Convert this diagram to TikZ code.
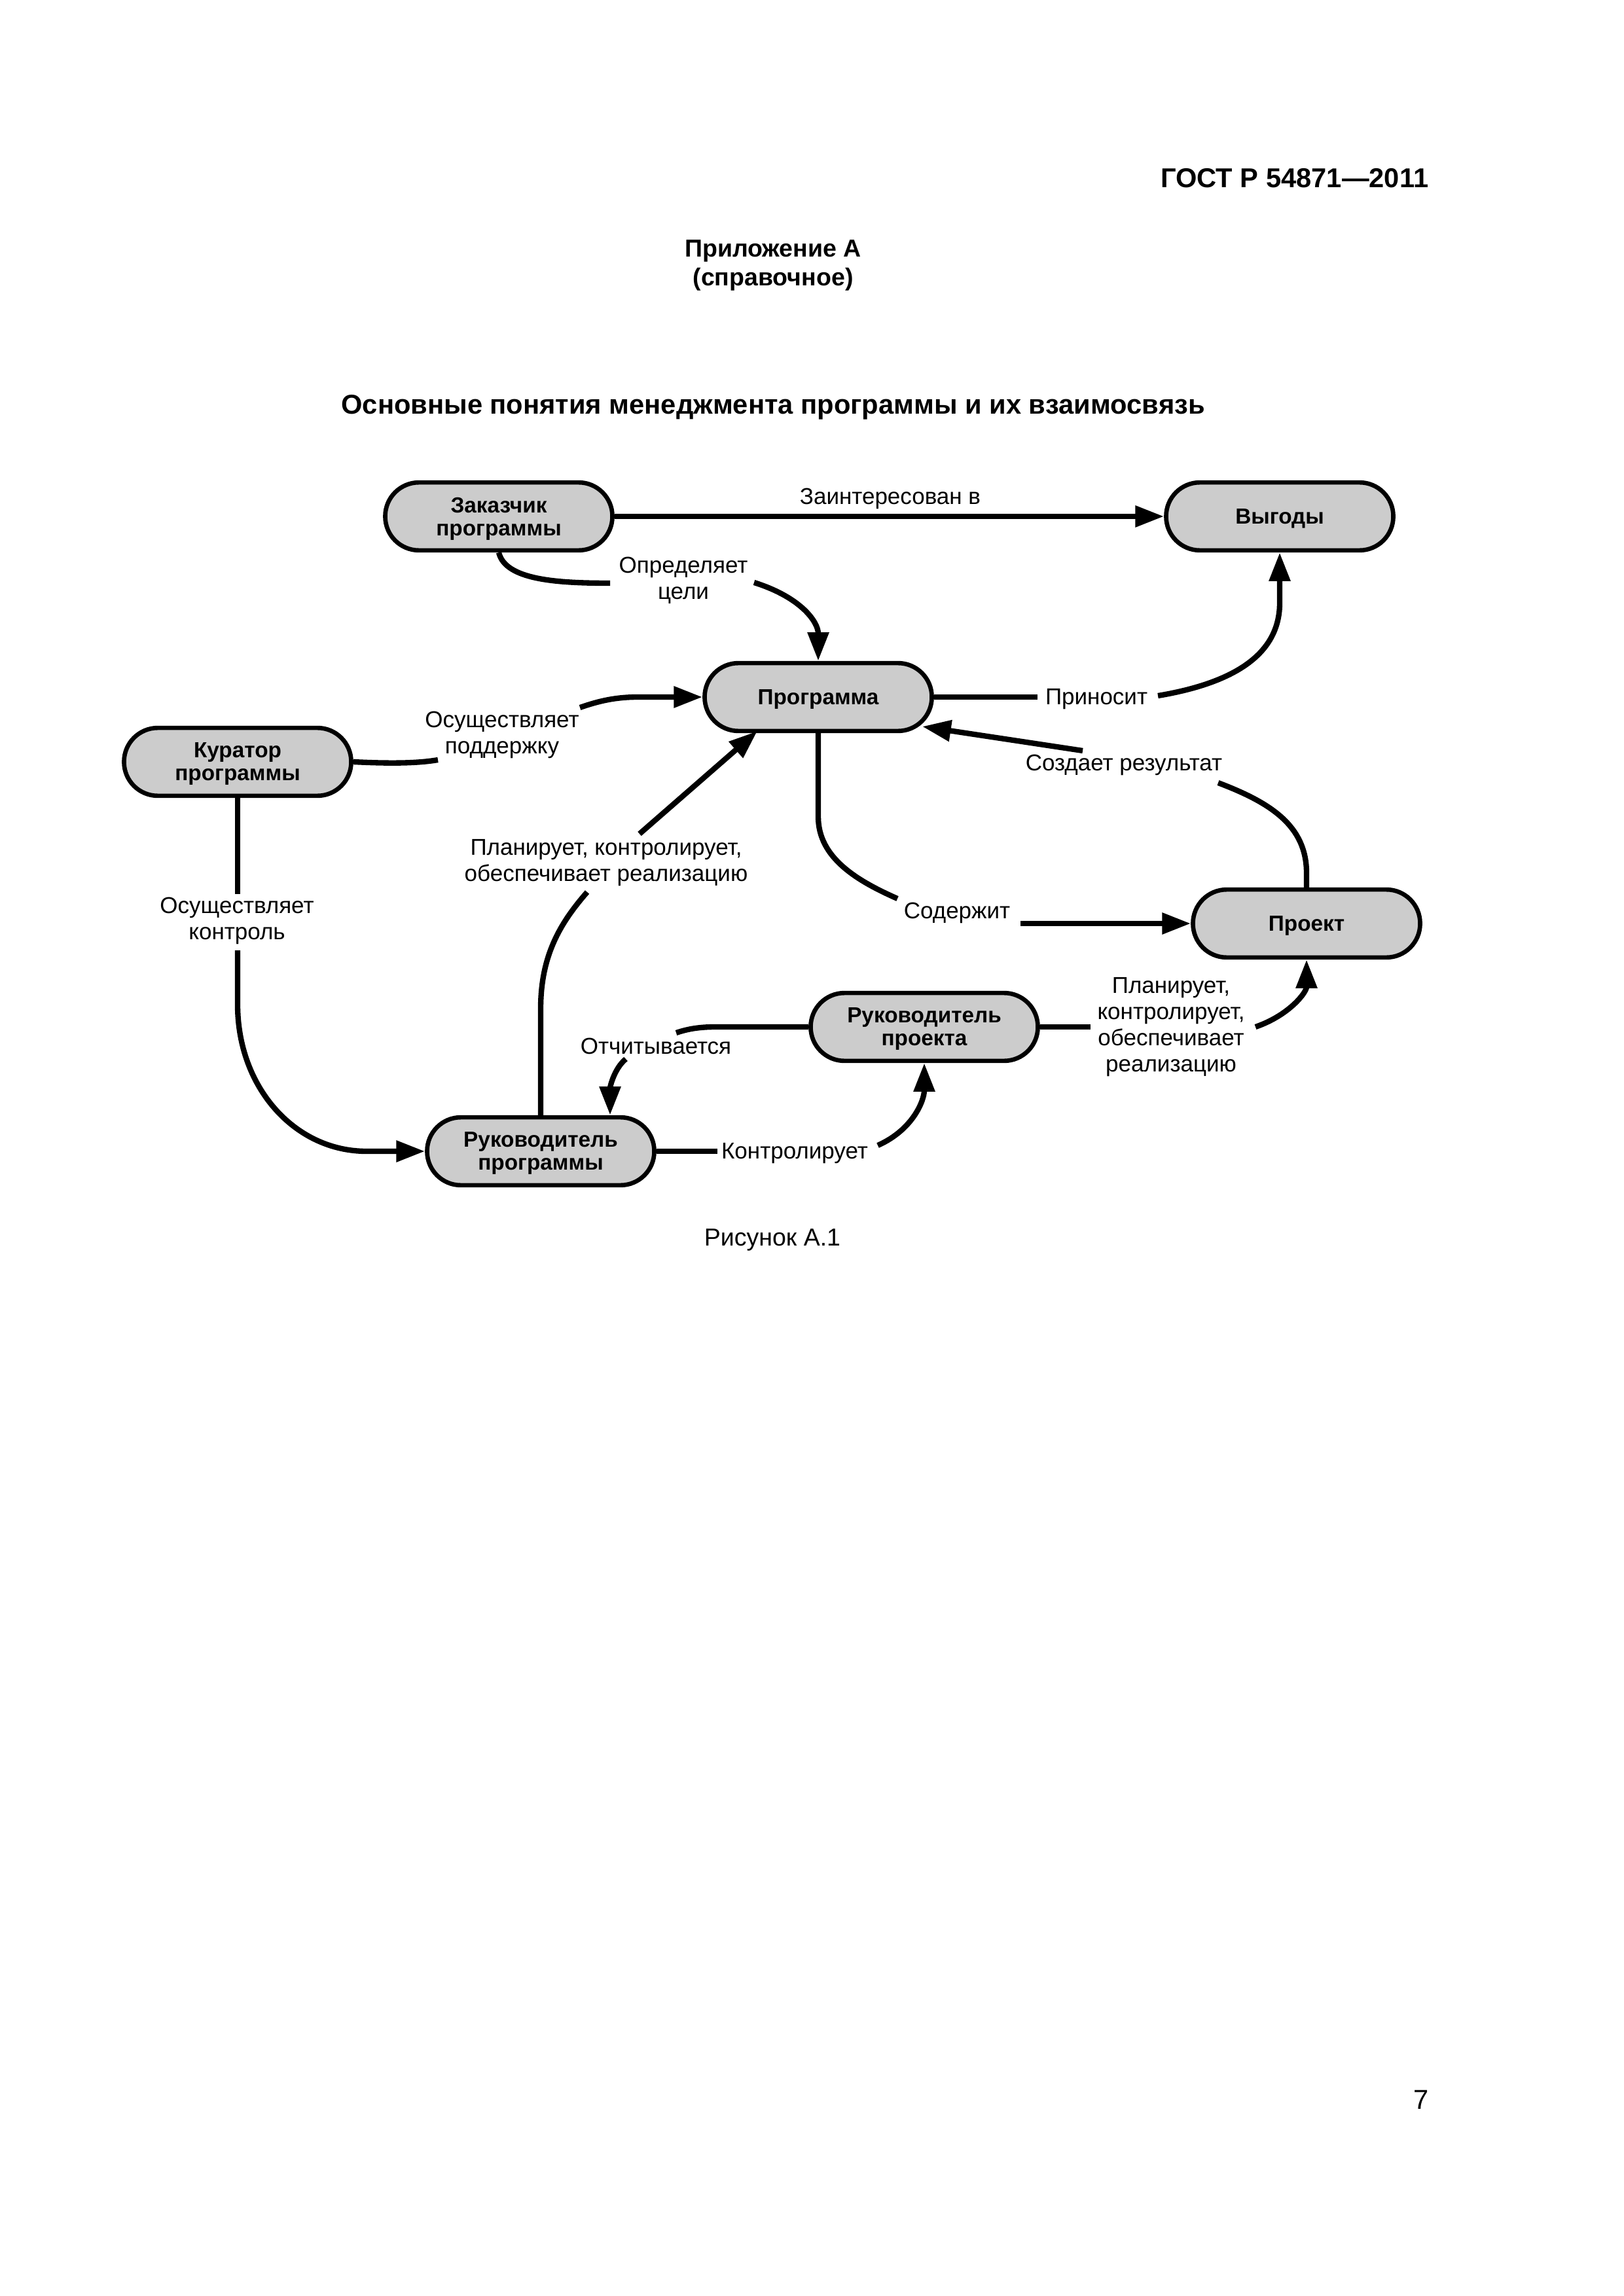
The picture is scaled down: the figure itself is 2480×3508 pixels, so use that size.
\documentclass[tikz,border=0pt]{standalone}
\usepackage{fontspec}
\setmainfont{Liberation Sans}
\usetikzlibrary{arrows.meta,calc}
\definecolor{boxgray}{RGB}{204,204,204}
\begin{document}
\begin{tikzpicture}[x=0.24pt,y=-0.24pt,
  box/.style={draw=black,line width=1.6pt,fill=boxgray,rounded corners=12.4pt,
    minimum width=83.3pt,minimum height=24.9pt,align=center,inner sep=0pt,
    text depth=0pt,font=\fontsize{8}{8.4}\selectfont\bfseries},
  lbl/.style={align=center,inner sep=0pt,yshift=-1pt,font=\fontsize{8.4}{9.6}\selectfont},
  conn/.style={line width=2pt},
  arr/.style={conn,-{Triangle[length=10.5pt,width=7.5pt]}}]
\useasboundingbox (0,0) rectangle (2480,3508);

% header
\node[anchor=east,inner sep=0pt,font=\fontsize{10}{12}\selectfont\bfseries] (gost) at (2183,272) {ГОСТ Р 54871—2011};
\node[anchor=base,inner sep=0pt,font=\fontsize{9}{11}\selectfont\bfseries] (app1) at (1181,393) {Приложение А};
\node[anchor=base,inner sep=0pt,font=\fontsize{9}{11}\selectfont\bfseries] (app2) at (1181,437) {(справочное)};
\node[anchor=base,inner sep=0pt,font=\fontsize{10}{12}\selectfont\bfseries] (title) at (1181,633) {Основные понятия менеджмента программы и их взаимосвязь};

% boxes
\node[box] (zak) at (762,789) {Заказчик\\программы};
\node[box] (vyg) at (1955,789) {Выгоды};
\node[box] (prog) at (1250,1065) {Программа};
\node[box] (kur) at (363,1164) {Куратор\\программы};
\node[box] (proj) at (1996,1411) {Проект};
\node[box] (rproj) at (1412,1569) {Руководитель\\проекта};
\node[box] (rprog) at (826,1759) {Руководитель\\программы};

% labels
\node[lbl] (l1) at (1360,758) {Заинтересован в};
\node[lbl] (l2) at (1044,883) {Определяет\\цели};
\node[lbl] (l3) at (1675,1064) {Приносит};
\node[lbl] (l4) at (767,1119) {Осуществляет\\поддержку};
\node[lbl] (l5) at (1717,1165) {Создает результат};
\node[lbl] (l6) at (926,1314) {Планирует, контролирует,\\обеспечивает реализацию};
\node[lbl] (l7) at (362,1403) {Осуществляет\\контроль};
\node[lbl] (l8) at (1462,1391) {Содержит};
\node[lbl] (l9) at (1789,1565) {Планирует,\\контролирует,\\обеспечивает\\реализацию};
\node[lbl] (l10) at (1002,1594) {Отчитывается};
\node[lbl] (l11) at (1214,1758) {Контролирует};

% free ends near labels
\coordinate (c2a) at (932,891);   \coordinate (c2b) at (1152,890);
\coordinate (c3a) at (1585,1065); \coordinate (c3b) at (1769,1063);
\coordinate (c4a) at (669,1161);  \coordinate (c4b) at (886,1081);
\coordinate (c5a) at (897,1363);  \coordinate (c5b) at (977,1274);
\coordinate (c6a) at (363,1366);  \coordinate (c6b) at (363,1452);
\coordinate (c7a) at (1033,1578); \coordinate (c7b) at (956,1618);
\coordinate (c8a) at (1096,1759); \coordinate (c8b) at (1341,1750);
\coordinate (c9a) at (1666,1569); \coordinate (c9b) at (1918,1569);
\coordinate (c10a) at (1861,1196); \coordinate (c10b) at (1654,1147);
\coordinate (c11a) at (1371,1373); \coordinate (c11b) at (1559,1411);

% connectors
\draw[arr] (zak.east) -- (vyg.west);

\draw[conn] (zak.south) .. controls (772,886) and (850,891) .. (c2a);
\draw[arr] (c2b) .. controls (1225,913) and (1250,951) .. (prog.north);

\draw[conn] (prog.east) -- (c3a);
\draw[arr] (c3b) .. controls (1900,1041) and (1955,991) .. (1955,921) -- (vyg.south);

\draw[conn] (kur.east) .. controls (600,1167) and (640,1166) .. (c4a);
\draw[arr] (c4b) .. controls (915,1071) and (940,1065) .. (975,1065) -- (prog.west);

\draw[conn] (rprog.north) -- (826,1541) .. controls (826,1461) and (855,1411) .. (c5a);
\draw[arr] (c5b) -- ($(prog.center)+(-93,52)$);

\draw[conn] (kur.south) -- (c6a);
\draw[arr] (c6b) -- (363,1535) .. controls (363,1661) and (450,1759) .. (560,1759) -- (rprog.west);

\draw[conn] (rproj.west) -- (1093,1569) .. controls (1065,1569) and (1048,1573) .. (c7a);
\draw[arr] (c7b) .. controls (938,1633) and (932,1661) .. ($(rprog.north)+(106,0)$);

\draw[conn] (rprog.east) -- (c8a);
\draw[arr] (c8b) .. controls (1395,1726) and (1412,1681) .. (rproj.south);

\draw[conn] (rproj.east) -- (c9a);
\draw[arr] (c9b) .. controls (1970,1551) and (1996,1516) .. (proj.south);

\draw[conn] (proj.north) -- (1996,1334) .. controls (1996,1261) and (1940,1226) .. (c10a);
\draw[arr] (c10b) -- ($(prog.center)+(159,45)$);

\draw[conn] (prog.south) -- (1250,1248) .. controls (1250,1311) and (1310,1346) .. (c11a);
\draw[arr] (c11b) -- (proj.west);

% caption and page number
\node[inner sep=0pt,yshift=-1pt,font=\fontsize{9}{11}\selectfont] (cap) at (1180,1890) {Рисунок А.1};
\node[anchor=east,inner sep=0pt,font=\fontsize{10}{12}\selectfont] (pnum) at (2183,3208) {7};
\end{tikzpicture}
\end{document}
